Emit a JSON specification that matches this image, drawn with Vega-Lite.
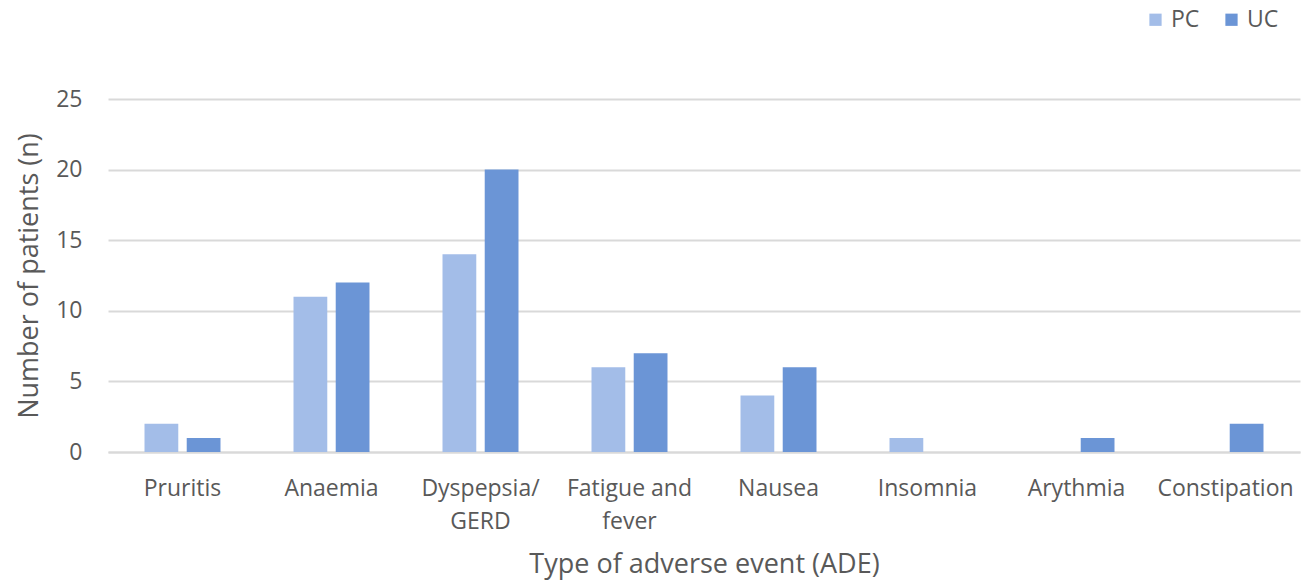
{
  "$schema": "https://vega.github.io/schema/vega-lite/v6.json",
  "width": 1192,
  "height": 353,
  "autosize": {"type": "none"},
  "padding": {"left": 108, "top": 99, "right": 4, "bottom": 130},
  "background": "white",
  "config": {"view": {"stroke": null}, "font": "Open Sans"},
  "data": {"values": [
    {"event": "Pruritis", "group": "PC", "n": 2},
    {"event": "Pruritis", "group": "UC", "n": 1},
    {"event": "Anaemia", "group": "PC", "n": 11},
    {"event": "Anaemia", "group": "UC", "n": 12},
    {"event": "Dyspepsia/ GERD", "group": "PC", "n": 14},
    {"event": "Dyspepsia/ GERD", "group": "UC", "n": 20},
    {"event": "Fatigue and fever", "group": "PC", "n": 6},
    {"event": "Fatigue and fever", "group": "UC", "n": 7},
    {"event": "Nausea", "group": "PC", "n": 4},
    {"event": "Nausea", "group": "UC", "n": 6},
    {"event": "Insomnia", "group": "PC", "n": 1},
    {"event": "Insomnia", "group": "UC", "n": 0},
    {"event": "Arythmia", "group": "PC", "n": 0},
    {"event": "Arythmia", "group": "UC", "n": 1},
    {"event": "Constipation", "group": "PC", "n": 0},
    {"event": "Constipation", "group": "UC", "n": 2}
  ]},
  "mark": {"type": "bar"},
  "encoding": {
    "x": {
      "field": "event", "type": "nominal", "sort": null,
      "scale": {"paddingInner": 0.49, "paddingOuter": 0.245},
      "axis": {
        "title": "Type of adverse event (ADE)",
        "titleFontSize": 27, "titleFontWeight": "normal", "titleColor": "#595959", "titlePadding": 18,
        "labelAngle": 0, "labelFontSize": 23, "labelColor": "#595959", "labelPadding": 25,
        "labelExpr": "datum.value == 'Dyspepsia/ GERD' ? ['Dyspepsia/', 'GERD'] : datum.value == 'Fatigue and fever' ? ['Fatigue and', 'fever'] : datum.value",
        "ticks": false, "domainColor": "#d9d9d9", "domainWidth": 2, "labelLineHeight": 33
      }
    },
    "xOffset": {"field": "group", "type": "nominal", "scale": {"paddingInner": 0.2, "paddingOuter": 0}},
    "y": {
      "field": "n", "type": "quantitative",
      "scale": {"domain": [0, 25]},
      "axis": {
        "title": "Number  of patients (n)",
        "titleFontSize": 27, "titleFontWeight": "normal", "titleColor": "#595959", "titlePadding": 12,
        "values": [0, 5, 10, 15, 20, 25],
        "labelFontSize": 23, "labelColor": "#595959", "labelPadding": 26,
        "ticks": false, "domain": false, "gridColor": "#d9d9d9", "gridWidth": 2
      }
    },
    "color": {
      "field": "group", "type": "nominal",
      "scale": {"domain": ["PC", "UC"], "range": ["#a3bde8", "#6b95d6"]},
      "legend": {
        "title": null, "orient": "none", "direction": "horizontal",
        "legendX": 1036, "legendY": -91,
        "symbolType": "square", "symbolSize": 150,
        "labelFontSize": 23, "labelColor": "#595959", "columnPadding": 20, "labelOffset": 4
      }
    }
  }
}
